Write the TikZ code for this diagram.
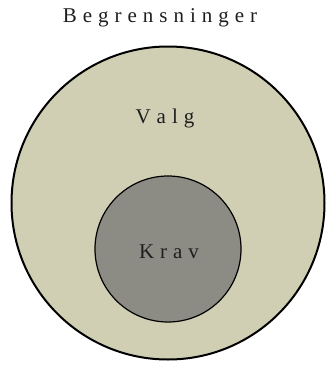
\documentclass[tikz,border=0pt]{standalone}
\usepackage{fontspec}
\setmainfont{Liberation Serif}
\usepackage{xcolor}
\usepackage{tikz}

\definecolor{valgfill}{RGB}{208,207,180}
\definecolor{kravfill}{RGB}{141,140,132}
\definecolor{tagcolor}{RGB}{30,30,30}

% spread the letters of a word
\newlength{\wordgap}
\setlength{\wordgap}{6pt}
\makeatletter
\newcommand{\spreadword}[1]{\def\spread@first{1}\@tfor\spread@c:=#1\do{\ifnum\spread@first=1 \def\spread@first{0}\else\kern\wordgap\fi\spread@c}}
\makeatother

\tikzset{
  tagtext/.style={text=tagcolor, font=\fontsize{21}{23}\selectfont, inner sep=0pt},
  ring/.style={circle, draw=black, inner sep=0pt}
}

\begin{document}
\begin{tikzpicture}[x=1pt, y=-1pt]
        \useasboundingbox (0,0) rectangle (325,365);
        % outer and inner circles
        \node[ring, fill=valgfill, line width=2pt, minimum size=313pt] (valg) at (168,203) {};
        \node[ring, fill=kravfill, line width=1.2pt, minimum size=146pt] (krav) at (168,249) {};
        % texts
        \node[tagtext] (title) at (160,18) {\spreadword{Begrensninger}};
        \node[tagtext] (valgtext) at (165,118) {\spreadword{Valg}};
        \node[tagtext] (kravtext) at (169,252) {\spreadword{Krav}};
    \end{tikzpicture}
\end{document}
